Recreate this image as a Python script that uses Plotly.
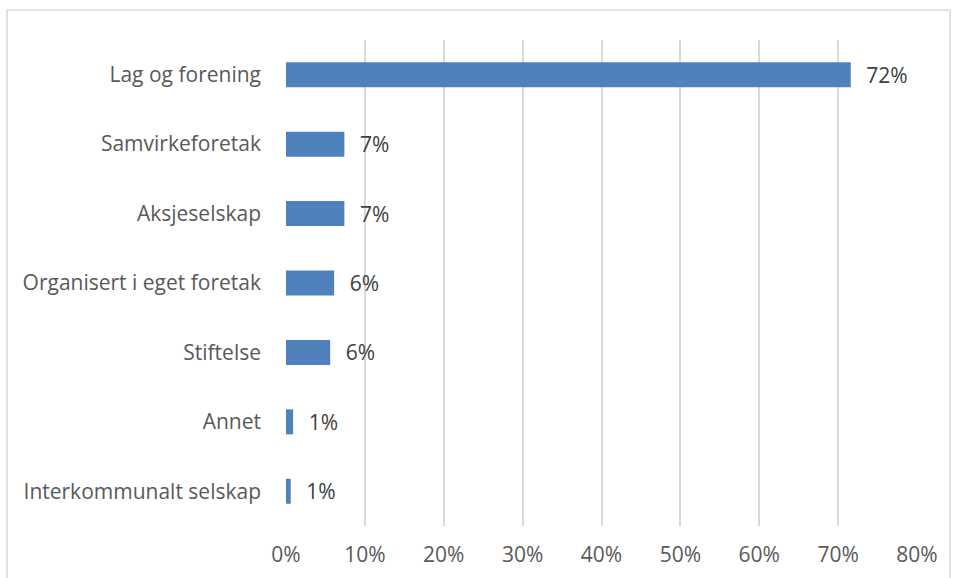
import plotly.graph_objects as go

categories = [
    "Lag og forening",
    "Samvirkeforetak",
    "Aksjeselskap",
    "Organisert i eget foretak",
    "Stiftelse",
    "Annet",
    "Interkommunalt selskap",
]
shares = [0.716, 0.074, 0.074, 0.061, 0.056, 0.009, 0.006]
x_ticks = [0, 0.1, 0.2, 0.3, 0.4, 0.5, 0.6, 0.7, 0.8]

W, H = 954, 578
L, R, T, B = 286, 37, 40, 52
pw = W - L - R
ph = H - T - B


def paper_x(px):
    return (px - L) / pw


def paper_y(py):
    return 1 - (py - T) / ph


fig = go.Figure()

fig.add_trace(
    go.Bar(
        y=categories,
        x=shares,
        orientation="h",
        width=0.36,
        marker=dict(color="#4F81BD", line_width=0),
        texttemplate="\u2002\u200a%{x:.0%}",
        textposition="outside",
        constraintext="none",
        textfont=dict(size=21, color="#404040"),
        cliponaxis=False,
        showlegend=False,
        hoverinfo="skip",
    )
)

# outer chart border
fig.add_shape(
    type="rect",
    xref="paper",
    yref="paper",
    x0=paper_x(7),
    x1=paper_x(950),
    y0=paper_y(620),
    y1=paper_y(10),
    line=dict(color="#D9D9D9", width=1.5),
    layer="below",
)

fig.update_layout(
    width=W,
    height=H,
    margin=dict(l=L, r=R, t=T, b=B, autoexpand=False),
    paper_bgcolor="white",
    plot_bgcolor="white",
    font=dict(family="Open Sans", size=21, color="#595959"),
)

fig.update_xaxes(
    range=[0, 0.8],
    tickvals=x_ticks,
    tickformat=".0%",
    showgrid=True,
    gridcolor="#D9D9D9",
    gridwidth=1.5,
    zeroline=False,
    showline=False,
    ticks="",
    ticklabelstandoff=14,
    automargin=False,
)

fig.update_yaxes(
    categoryorder="array",
    categoryarray=categories[::-1],
    showgrid=False,
    zeroline=False,
    showline=False,
    ticks="",
    ticklabelstandoff=24,
    automargin=False,
)

fig.write_html(
    "out.html",
    config={"displayModeBar": False},
    post_script="document.body.style.margin='0px';",
)
